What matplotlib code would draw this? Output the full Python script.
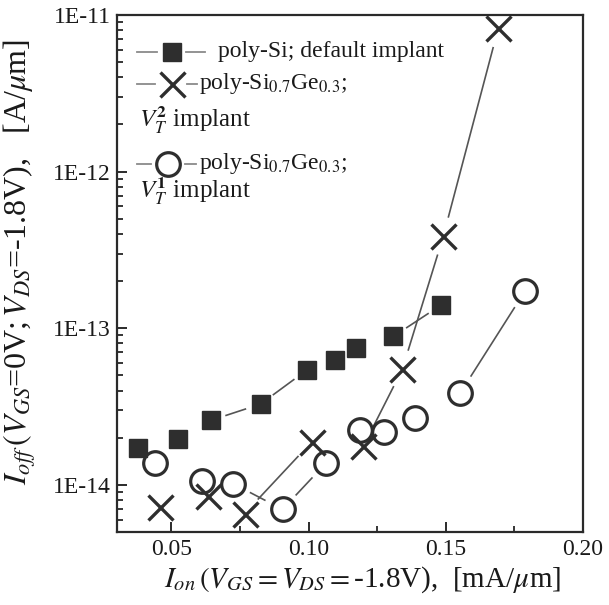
import numpy as np
import matplotlib
matplotlib.use("Agg")
import matplotlib.pyplot as plt
from matplotlib.ticker import MultipleLocator, LogLocator, NullFormatter

plt.rcParams['font.family'] = ['Liberation Serif', 'DejaVu Serif']
plt.rcParams['mathtext.fontset'] = 'stix'

# ---- data ----
sq_x = [0.0378, 0.0524, 0.0644, 0.0825, 0.0993, 0.1098, 0.1173, 0.1309, 0.1484]
sq_y = [1.72e-14, 1.97e-14, 2.58e-14, 3.28e-14, 5.40e-14, 6.26e-14, 7.51e-14, 8.87e-14, 1.41e-13]

cr_x = [0.0458, 0.0633, 0.0767, 0.1011, 0.1200, 0.1342, 0.1491, 0.1691]
cr_y = [7.18e-15, 8.48e-15, 6.56e-15, 1.88e-14, 1.77e-14, 5.49e-14, 3.87e-13, 8.21e-12]

ci_x = [0.0440, 0.0611, 0.0724, 0.0905, 0.1062, 0.1189, 0.1276, 0.1389, 0.1553, 0.1789]
ci_y = [1.37e-14, 1.06e-14, 1.02e-14, 6.97e-15, 1.37e-14, 2.25e-14, 2.19e-14, 2.66e-14, 3.87e-14, 1.73e-13]

x_ticks = [0.05, 0.10, 0.15, 0.20]
x_tick_labels = ['0.05', '0.10', '0.15', '0.20']
y_ticks = [1e-14, 1e-13, 1e-12, 1e-11]
y_tick_labels = ['1E-14', '1E-13', '1E-12', '1E-11']

labels = ['poly-Si; default implant',
          r'poly-Si$_{0.7}$Ge$_{0.3}$;',
          r'poly-Si$_{0.7}$Ge$_{0.3}$;']
sublabels = [None, r'$V_T^{\mathbf{2}}$ implant', r'$V_T^{\mathbf{1}}$ implant']

W, H = 609, 605
fig = plt.figure(figsize=(W / 100, H / 100), dpi=100)
L, R, T, B = 116.5, 583, 15, 532
ax = fig.add_axes([L / W, 1 - B / H, (R - L) / W, (B - T) / H])
ax.set_yscale('log')
ax.set_xlim(0.03, 0.20)
ax.set_ylim(5e-15, 1e-11)

mk_col = '#2e2e2e'
line_col = '#555555'


def gapped_line(xs, ys, gap):
    pts = ax.transData.transform(np.column_stack([xs, ys]))
    inv = ax.transData.inverted()
    for p1, p2 in zip(pts[:-1], pts[1:]):
        d = p2 - p1
        n = np.hypot(*d)
        if n <= 2 * gap + 14:
            continue
        a = p1 + d / n * gap
        b = p2 - d / n * gap
        seg = inv.transform(np.array([a, b]))
        ax.plot(seg[:, 0], seg[:, 1], color=line_col, lw=1.2, zorder=1)


gapped_line(sq_x, sq_y, 16)
gapped_line(cr_x, cr_y, 20)
gapped_line(ci_x, ci_y, 20)

ax.plot(sq_x, sq_y, ls='none', marker='s', ms=13.5, color=mk_col, mec=mk_col, zorder=3)
ax.plot(cr_x, cr_y, ls='none', marker='x', ms=18, mew=2.4, color=mk_col, zorder=3)
ax.plot(ci_x, ci_y, ls='none', marker='o', ms=17, mew=2.3, mfc='none', mec=mk_col, zorder=3)

# ticks
ax.set_xticks(x_ticks)
ax.set_xticklabels(x_tick_labels)
ax.xaxis.set_minor_locator(MultipleLocator(0.025))
ax.set_yticks(y_ticks)
ax.set_yticklabels(y_tick_labels)
ax.yaxis.set_minor_locator(LogLocator(base=10, subs=np.arange(2, 10)))
ax.yaxis.set_minor_formatter(NullFormatter())
ax.tick_params(which='major', direction='in', length=7, width=1.3, labelsize=17,
               colors='#1a1a1a', top=False, right=False)
ax.tick_params(which='minor', direction='in', length=4, width=1.1, top=False, right=False)
ax.tick_params(axis='x', pad=5)
ax.tick_params(axis='y', pad=4)
for s in ax.spines.values():
    s.set_linewidth(1.6)
    s.set_color('#2a2a2a')

# axis labels
fig.text(363 / W, 1 - 580 / H,
         r'$I_{on}\,(V_{GS}=V_{DS}=$-1.8V),  [mA/$\mu$m]',
         ha='center', va='center', fontsize=21, color='#1a1a1a')
fig.text(20 / W, 1 - 262 / H,
         r'$I_{off}\,(V_{GS}$=0V;$\,V_{DS}$=-1.8V),   [A/$\mu$m]',
         ha='center', va='center', rotation=90, fontsize=23, color='#1a1a1a')

# manual legend (figure pixel coords from top-left)
def fx(px):
    return px / W


def fy(py):
    return 1 - py / H


dash_col = '#8a8a8a'
entries = [
    dict(y=52, mx=172, marker='s', kw=dict(ms=13.5, color=mk_col), d1=(137, 157), d2=(186, 205), tx=218),
    dict(y=84, mx=172, marker='x', kw=dict(ms=18, mew=2.4, color=mk_col), d1=(137, 155), d2=(187, 197), tx=199),
    dict(y=164, mx=168, marker='o', kw=dict(ms=17, mew=2.3, mfc='none', mec=mk_col), d1=(137, 151), d2=(185, 196), tx=199),
]
sub_y = [None, 120, 191]
for i, e in enumerate(entries):
    for d in (e['d1'], e['d2']):
        fig.add_artist(plt.Line2D([fx(d[0]), fx(d[1])], [fy(e['y']), fy(e['y'])],
                                  color=dash_col, lw=1.3, transform=fig.transFigure))
    fig.add_artist(plt.Line2D([fx(e['mx'])], [fy(e['y'])], marker=e['marker'], ls='none',
                              transform=fig.transFigure, **e['kw']))
    fig.text(fx(e['tx']), fy(e['y']), labels[i], ha='left', va='center', fontsize=17,
             color='#1a1a1a')
    if sublabels[i]:
        fig.text(fx(139), fy(sub_y[i]), sublabels[i], ha='left', va='center', fontsize=18,
                 color='#1a1a1a')

fig.savefig('out.png', dpi=100)
